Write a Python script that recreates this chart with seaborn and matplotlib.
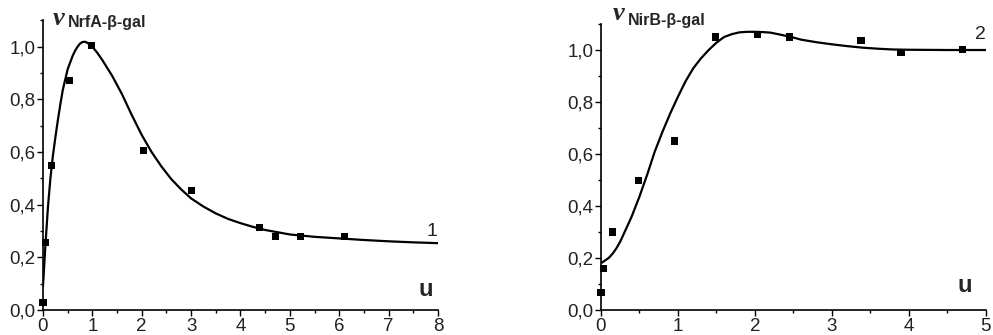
#!/usr/bin/env python3

import matplotlib
matplotlib.use("Agg")
import matplotlib.pyplot as plt
from matplotlib.ticker import MultipleLocator, FuncFormatter
import seaborn as sns
import pandas as pd

# panel 1: NrfA-beta-gal, measured points and fitted curve
nrfa_u = [0.0, 0.06, 0.18, 0.53, 0.98, 2.04, 3.01, 4.39, 4.71, 5.22, 6.10]
nrfa_v = [0.03, 0.255, 0.55, 0.873, 1.005, 0.607, 0.454, 0.312, 0.28, 0.278, 0.278]
nrfa_fit_u = [0.0, 0.05, 0.1, 0.15, 0.2, 0.25, 0.3, 0.35, 0.4, 0.5, 0.55, 0.6,
              0.65, 0.7, 0.75, 0.8, 0.85, 0.9, 0.95, 1.0, 1.1, 1.2, 1.3, 1.4,
              1.6, 1.8, 2.0, 2.2, 2.4, 2.6, 2.8, 3.0, 3.25, 3.5, 3.75, 4.0,
              4.25, 4.5, 5.0, 5.5, 6.0, 6.5, 7.0, 7.5, 8.0]
nrfa_fit_v = [0.09, 0.25, 0.39, 0.50, 0.585, 0.655, 0.72, 0.78, 0.835, 0.915,
              0.94, 0.965, 0.985, 1.0, 1.012, 1.018, 1.019, 1.015, 1.008, 1.0,
              0.977, 0.95, 0.92, 0.89, 0.82, 0.74, 0.665, 0.60, 0.545, 0.497,
              0.458, 0.424, 0.393, 0.367, 0.346, 0.33, 0.316, 0.304, 0.287,
              0.278, 0.272, 0.266, 0.261, 0.257, 0.254]

# panel 2: NirB-beta-gal
nirb_u = [0.0, 0.03, 0.15, 0.49, 0.96, 1.49, 2.03, 2.45, 3.38, 3.90, 4.70]
nirb_v = [0.069, 0.16, 0.30, 0.499, 0.65, 1.05, 1.058, 1.05, 1.037, 0.991, 1.003]
nirb_fit_u = [0.0, 0.1, 0.15, 0.2, 0.25, 0.3, 0.4, 0.5, 0.6, 0.7, 0.8, 0.9, 1.0,
              1.1, 1.2, 1.3, 1.4, 1.5, 1.6, 1.7, 1.8, 1.9, 2.0, 2.1, 2.2, 2.35,
              2.5, 2.6, 2.8, 3.0, 3.2, 3.4, 3.6, 3.8, 4.0, 4.5, 5.0]
nirb_fit_v = [0.18, 0.20, 0.216, 0.237, 0.263, 0.295, 0.36, 0.436, 0.52, 0.61,
              0.686, 0.756, 0.82, 0.88, 0.93, 0.968, 1.0, 1.028, 1.05, 1.061,
              1.068, 1.07, 1.07, 1.069, 1.067, 1.058, 1.048, 1.04, 1.03, 1.022,
              1.015, 1.009, 1.005, 1.002, 1.001, 1.0, 1.0]

panels = [
    dict(u=nrfa_u, v=nrfa_v, fu=nrfa_fit_u, fv=nrfa_fit_v, xmax=8, sub="NrfA-β-gal",
         curve_label="1", label_xy=(7.98, 0.30), u_xy=(7.75, 0.035),
         nu_xy=(0.024, 0.985), sub_xy=(0.063, 0.976),
         rect=[0.0433, 0.0746, 0.3977, 0.8644]),
    dict(u=nirb_u, v=nirb_v, fu=nirb_fit_u, fv=nirb_fit_v, xmax=5, sub="NirB-β-gal",
         curve_label="2", label_xy=(5.0, 1.058), u_xy=(4.73, 0.05),
         nu_xy=(0.030, 1.014), sub_xy=(0.07, 0.995),
         rect=[0.6052, 0.0746, 0.3874, 0.8537]),
]

sns.set_style("ticks")
plt.rcParams["font.family"] = ["Liberation Sans", "DejaVu Sans"]

fig = plt.figure(figsize=(9.93, 3.35), dpi=100)

comma = FuncFormatter(lambda v, pos: f"{v:.1f}".replace(".", ","))

for p in panels:
    ax = fig.add_axes(p["rect"])
    pts = pd.DataFrame({"u": p["u"], "v": p["v"]})
    fit = pd.DataFrame({"u": p["fu"], "v": p["fv"]})
    sns.lineplot(data=fit, x="u", y="v", color="black", linewidth=1.6, ax=ax)
    sns.scatterplot(data=pts, x="u", y="v", marker="s", color="black", s=26,
                    edgecolor="none", ax=ax, zorder=3, clip_on=False)

    ax.set_xlim(0, p["xmax"])
    ax.set_ylim(0, 1.1)
    ax.xaxis.set_major_locator(MultipleLocator(1))
    ax.xaxis.set_minor_locator(MultipleLocator(0.5))
    ax.yaxis.set_major_locator(MultipleLocator(0.2))
    ax.yaxis.set_minor_locator(MultipleLocator(0.1))
    ax.yaxis.set_major_formatter(comma)
    ax.tick_params(which="major", length=4, width=1, labelsize=13.5, pad=1.5,
                   direction="out", color="black", labelcolor="#222222")
    ax.tick_params(which="minor", length=2.5, width=1, direction="out", color="black")
    ax.set_xlabel("")
    ax.set_ylabel("")
    for s in ("left", "bottom"):
        ax.spines[s].set_linewidth(1.2)
        ax.spines[s].set_color("black")
    sns.despine(ax=ax)

    lx, ly = p["label_xy"]
    ax.text(lx, ly, p["curve_label"], fontsize=14, ha="right", va="center",
            color="#222222", clip_on=False)
    ux, uy = p["u_xy"]
    ax.text(ux, uy, "u", fontsize=17, fontweight="bold", ha="center", va="bottom")

    # axis title: italic nu with bold subscript
    nx, ny = p["nu_xy"]
    ax.text(nx, ny, "ν", transform=ax.transAxes, fontsize=19, fontweight="bold",
            family=["Liberation Serif", "DejaVu Serif"], style="italic",
            ha="left", va="baseline")
    sx, sy = p["sub_xy"]
    ax.text(sx, sy, p["sub"], transform=ax.transAxes, fontsize=11.5,
            fontweight="bold", ha="left", va="baseline")

fig.savefig("out.png", dpi=100)
